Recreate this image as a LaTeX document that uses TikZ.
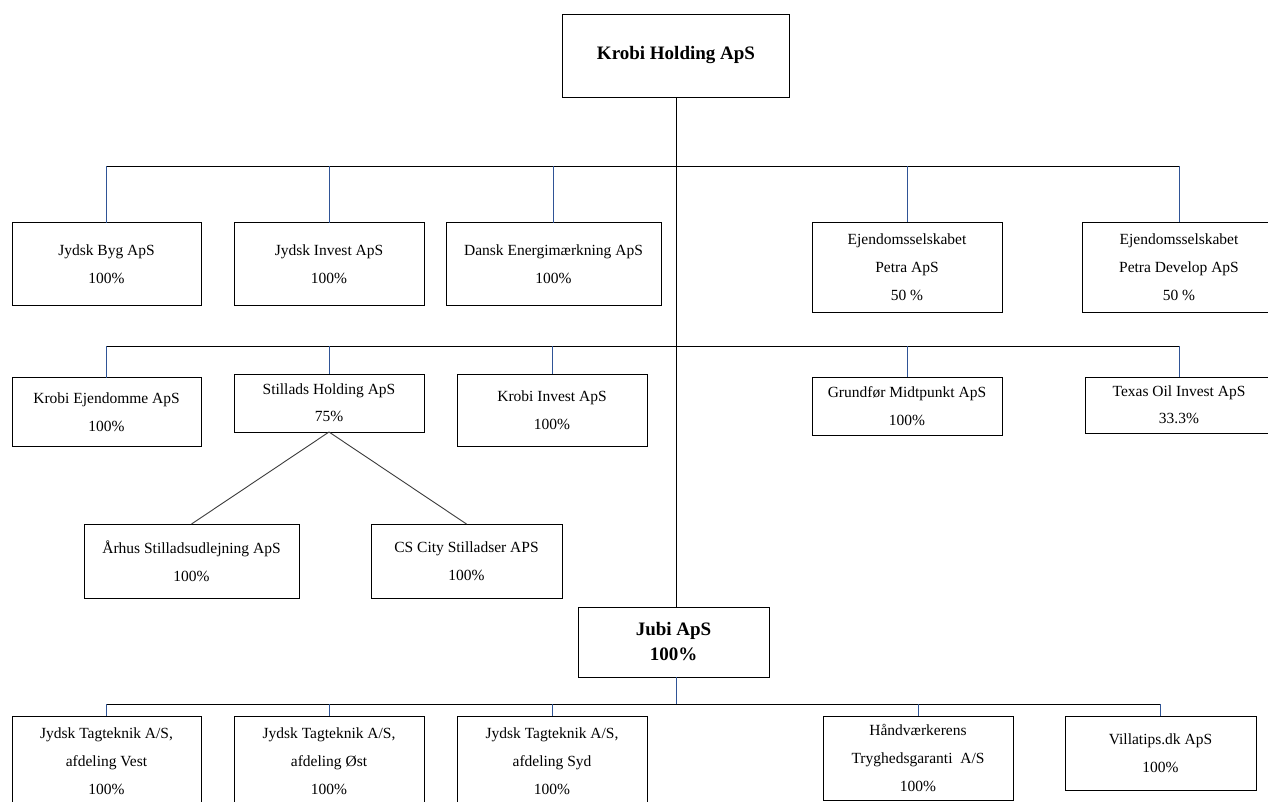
\documentclass[tikz,border=0pt]{standalone}
\usepackage{fontspec}
\setmainfont{Liberation Serif}
\usetikzlibrary{arrows, shapes, positioning}

\definecolor{linkblue}{RGB}{47,84,150}
\definecolor{diaggray}{RGB}{60,60,60}
\newcommand{\firmfont}{\fontsize{15.5}{28}\selectfont}
\newcommand{\headfont}{\fontsize{19}{25}\selectfont\bfseries}

\tikzset{
  firm/.style={draw, line width=1pt, align=center, inner sep=0pt, outer sep=0pt, font=\firmfont},
  bus/.style={line width=0.9pt, black},
  link/.style={line width=0.9pt, linkblue},
}

\begin{document}
\begin{tikzpicture}[x=1pt, y=-1pt]
    \clip (0,0) rectangle (1268,801);
    \fill[white] (0,0) rectangle (1268,801);

    % nodes %
      \node[firm, font=\headfont, minimum width=227pt, minimum height=83pt] (holding) at (676,55.5) {Krobi Holding ApS};

      \node[firm, minimum width=189pt, minimum height=83pt] (jbyg) at (106.5,264) {Jydsk Byg ApS\\100\%};
      \node[firm, minimum width=190pt, minimum height=83pt] (jinvest) at (329,264) {Jydsk Invest ApS\\100\%};
      \node[firm, minimum width=215pt, minimum height=83pt] (energi) at (553.5,264) {Dansk Energimærkning ApS\\100\%};
      \node[firm, minimum width=190pt, minimum height=90pt] (petra) at (907,267) {Ejendomsselskabet\\Petra ApS\\50 \%};
      \node[firm, minimum width=194pt, minimum height=90pt] (develop) at (1179,267) {Ejendomsselskabet\\Petra Develop ApS\\50 \%};

      \node[firm, minimum width=189pt, minimum height=69pt] (kejendom) at (106.5,412) {Krobi Ejendomme ApS\\100\%};
      \node[firm, minimum width=190pt, minimum height=58pt] (stillads) at (329,403) {Stillads Holding ApS\\[-1pt]75\%};
      \node[firm, minimum width=190pt, minimum height=72pt] (kinvest) at (552,410) {Krobi Invest ApS\\100\%};
      \node[firm, minimum width=190pt, minimum height=58pt] (grundfor) at (907,406) {Grundfør Midtpunkt ApS\\100\%};
      \node[firm, minimum width=188pt, minimum height=56pt] (texas) at (1179,405) {Texas Oil Invest ApS\\[-1pt]33.3\%};

      \node[firm, minimum width=215pt, minimum height=74pt] (aarhus) at (191.5,561) {Århus Stilladsudlejning ApS\\100\%};
      \node[firm, minimum width=191pt, minimum height=74pt] (csc) at (466.5,561) {CS City Stilladser APS\\100\%};

      \node[firm, font=\headfont, minimum width=191pt, minimum height=70pt] (jubi) at (673.5,642) {Jubi ApS\\100\%};

      \node[firm, minimum width=189pt, minimum height=90pt] (vest) at (106.5,761) {Jydsk Tagteknik A/S,\\afdeling Vest\\100\%};
      \node[firm, minimum width=190pt, minimum height=90pt] (oest) at (329,761) {Jydsk Tagteknik A/S,\\afdeling Øst\\100\%};
      \node[firm, minimum width=190pt, minimum height=90pt] (syd) at (552,761) {Jydsk Tagteknik A/S,\\afdeling Syd\\100\%};
      \node[firm, minimum width=190pt, minimum height=84pt] (haandv) at (918,758) {Håndværkerens\\Tryghedsgaranti~ A/S\\100\%};
      \node[firm, minimum width=191pt, minimum height=74pt] (villa) at (1160.5,753) {Villatips.dk ApS\\100\%};

      \coordinate (bus1) at (676,166);
      \coordinate (bus2) at (676,346);
      \coordinate (bus3) at (676,704);

      % edges %
      \draw[bus] (holding.south) -- (holding.south |- jubi.north);
      \draw[bus] (jbyg.north |- bus1) -- (develop.north |- bus1);
      \draw[bus] (kejendom.north |- bus2) -- (texas.north |- bus2);
      \draw[bus] (vest.north |- bus3) -- (villa.north |- bus3);

      \foreach \n in {jbyg, jinvest, energi, petra, develop}
        \draw[link] (\n.north) -- (\n.north |- bus1);
      \foreach \n in {kejendom, stillads, kinvest, grundfor, texas}
        \draw[link] (\n.north) -- (\n.north |- bus2);
      \foreach \n in {vest, oest, syd, haandv, villa}
        \draw[link] (\n.north) -- (\n.north |- bus3);
      \draw[link] (jubi.south -| bus3) -- (bus3);

      \draw[line width=0.9pt, diaggray] (stillads.south) -- (aarhus.north);
      \draw[line width=0.9pt, diaggray] (stillads.south) -- (csc.north);
    \end{tikzpicture}
\end{document}
